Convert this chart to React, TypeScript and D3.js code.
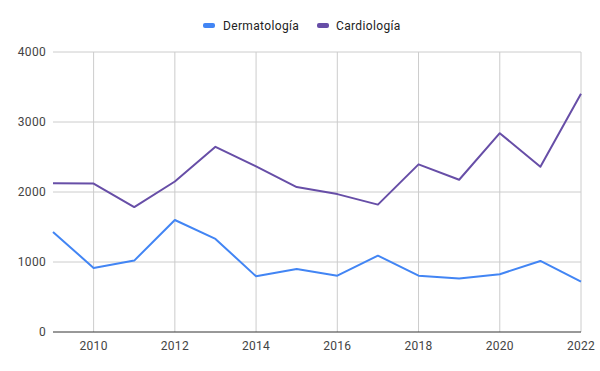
import React from 'react';
import * as d3 from 'd3';

const years = [2009, 2010, 2011, 2012, 2013, 2014, 2015, 2016, 2017, 2018, 2019, 2020, 2021, 2022];
const dermatologia = [1430, 915, 1020, 1600, 1330, 795, 900, 805, 1090, 805, 765, 825, 1015, 720];
const cardiologia = [2125, 2120, 1785, 2150, 2645, 2365, 2070, 1970, 1820, 2395, 2175, 2840, 2360, 3405];
const yTicks = [0, 1000, 2000, 3000, 4000];
const xTicks = [2010, 2012, 2014, 2016, 2018, 2020, 2022];

const series = [
    { name: 'Dermatología', values: dermatologia, color: '#4285f4' },
    { name: 'Cardiología', values: cardiologia, color: '#674ea7' },
];

const W = 600, H = 371;
const margin = { top: 52, right: 19, bottom: 39, left: 53 };

export default function App() {
    const x = d3.scaleLinear().domain([2009, 2022]).range([margin.left, W - margin.right]);
    const y = d3.scaleLinear().domain([0, 4000]).range([H - margin.bottom, margin.top]);

    const line = d3.line<number>()
        .x((_, i) => x(years[i]))
        .y(d => y(d));

    const font = 'Roboto, Arial, sans-serif';

    return (
        <svg width={W} height={H} style={{ position: 'absolute', left: 0, top: 0, background: '#fff' }}>
            <rect width={W} height={H} fill="#fff" />
            {/* grid */}
            {yTicks.filter(t => t > 0).map(t => (
                <line key={'gy' + t} x1={margin.left} x2={W - margin.right} y1={y(t)} y2={y(t)} stroke="#cccccc" />
            ))}
            {xTicks.map(t => (
                <line key={'gx' + t} x1={x(t)} x2={x(t)} y1={margin.top} y2={y(0)} stroke="#cccccc" />
            ))}
            {/* y labels */}
            {yTicks.map(t => (
                <text key={'ly' + t} x={margin.left - 7} y={y(t) + 4} textAnchor="end"
                    fontFamily={font} fontSize={12} fill="#444" letterSpacing={0.3}>{t}</text>
            ))}
            {/* x labels */}
            {xTicks.map(t => (
                <text key={'lx' + t} x={x(t)} y={y(0) + 18} textAnchor="middle"
                    fontFamily={font} fontSize={12} fill="#444" letterSpacing={0.3}>{t}</text>
            ))}
            {/* lines */}
            {series.map(s => (
                <path key={s.name} d={line(s.values) || ''} fill="none" stroke={s.color} strokeWidth={2} strokeLinejoin="round" />
            ))}
            {/* baseline */}
            <line x1={margin.left} x2={W - margin.right} y1={y(0)} y2={y(0)} stroke="#333" />
            {/* legend */}
            <g fontFamily={font} fontSize={12} fill="#222" letterSpacing={0.35}>
                <rect x={203} y={23} width={12} height={5} rx={2} fill={series[0].color} />
                <text x={223} y={30}>{series[0].name}</text>
                <rect x={317} y={23} width={12} height={5} rx={2} fill={series[1].color} />
                <text x={336} y={30}>{series[1].name}</text>
            </g>
        </svg>
    );
}
